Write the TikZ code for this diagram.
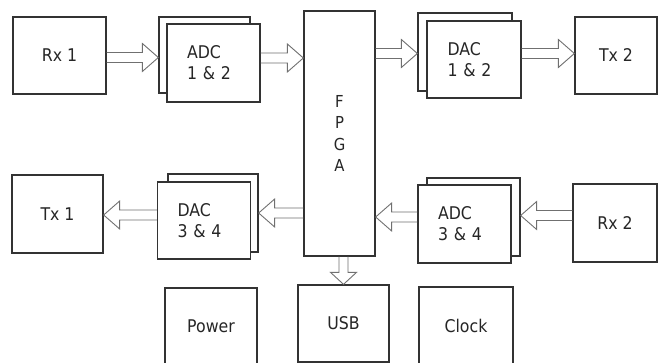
\documentclass[tikz,border=0pt]{standalone}
\usepackage{fontspec}
\setmainfont{DejaVu Sans}[FakeStretch=0.9]
\usetikzlibrary{calc}
\definecolor{boxc}{HTML}{333333}
\definecolor{arrc}{HTML}{707070}
\newcommand{\lblfont}{\fontsize{17.5pt}{21pt}\selectfont}
\newcommand{\fpgafont}{\fontsize{16.5pt}{21.5pt}\selectfont}
\tikzset{
  box/.style={draw=boxc, line width=1.3pt, fill=white, inner sep=0pt, font=\lblfont, align=left, text=black!85},
  twoline/.style={text width=53pt, inner xsep=20pt},
  fat/.style={draw=arrc, line width=0.9pt, line join=miter},
}
% horizontal hollow arrow: #1 start, #2 tip, #3 y, #4 direction (1 right, -1 left)
\newcommand{\arrH}[4]{%
  \coordinate (hs) at (#1 |- 0,#3);
  \coordinate (ht) at (#2 |- 0,#3);
  \draw[fat] ($(hs)+(0,-5)$) -- ($(ht)+({-16*(#4)},-5)$) -- ($(ht)+({-16*(#4)},-14)$) -- (ht)
    -- ($(ht)+({-16*(#4)},14)$) -- ($(ht)+({-16*(#4)},5)$) -- ($(hs)+(0,5)$);}
\begin{document}
\begin{tikzpicture}[x=1pt,y=-1pt]
\fill[white] (0,0) rectangle (663,363);
\useasboundingbox (0,0) rectangle (663,363);
% top row
\node[box, minimum width=93pt, minimum height=77pt] (rx1) at (59.5,55.5) {Rx 1};
\node[box, minimum width=91pt, minimum height=76pt] (adc12b) at (204.5,55) {};
\node[box, twoline, minimum width=93pt, minimum height=78pt] (adc12f) at (213.5,63) {ADC\\1 \& 2};
\node[box, minimum width=71pt, minimum height=245pt, font=\fpgafont, align=center] (fpga) at (339.5,133.5) {\raisebox{4pt}{\parbox{20pt}{\centering F\\P\\G\\A}}};
\node[box, minimum width=94pt, minimum height=78pt] (dac12b) at (465,52) {};
\node[box, twoline, minimum width=94pt, minimum height=77pt] (dac12f) at (474,59.5) {DAC\\1 \& 2};
\node[box, minimum width=82pt, minimum height=77pt] (tx2) at (616,55.5) {Tx 2};
% middle row
\node[box, minimum width=91pt, minimum height=78pt] (tx1) at (57.5,214) {Tx 1};
\node[box, minimum width=90pt, minimum height=78pt] (dac34b) at (213,213) {};
\node[box, twoline, minimum width=92pt, minimum height=77pt] (dac34f) at (204,220.5) {DAC\\3 \& 4};
\node[box, minimum width=93pt, minimum height=78pt] (adc34b) at (473.5,217) {};
\node[box, twoline, minimum width=93pt, minimum height=78pt] (adc34f) at (464.5,224) {ADC\\3 \& 4};
\node[box, minimum width=84pt, minimum height=78pt] (rx2) at (615,223) {Rx 2};
% bottom row
\node[box, minimum width=92pt, minimum height=77pt] (power) at (211,326.5) {Power};
\node[box, minimum width=91pt, minimum height=77pt] (usb) at (343.5,323.5) {USB};
\node[box, minimum width=94pt, minimum height=78pt] (clock) at (466,326) {Clock};
% arrows
\arrH{rx1.east}{adc12b.west}{57.5}{1}
\arrH{adc12f.east}{fpga.west}{58}{1}
\arrH{fpga.east}{dac12b.west}{53.5}{1}
\arrH{dac12f.east}{tx2.west}{53.5}{1}
\arrH{dac34f.west}{tx1.east}{215}{-1}
\arrH{fpga.west}{dac34b.east}{213}{-1}
\arrH{adc34f.west}{fpga.east}{217}{-1}
\arrH{rx2.west}{adc34b.east}{215.5}{-1}
\coordinate (vs) at (fpga.south -| 343.5,0);
\coordinate (vt) at (usb.north -| 343.5,0);
\draw[fat] ($(vs)+(-4.5,0)$) -- ($(vt)+(-4.5,-12)$) -- ($(vt)+(-13,-12)$) -- (vt)
  -- ($(vt)+(13,-12)$) -- ($(vt)+(4.5,-12)$) -- ($(vs)+(4.5,0)$);
\end{tikzpicture}
\end{document}
